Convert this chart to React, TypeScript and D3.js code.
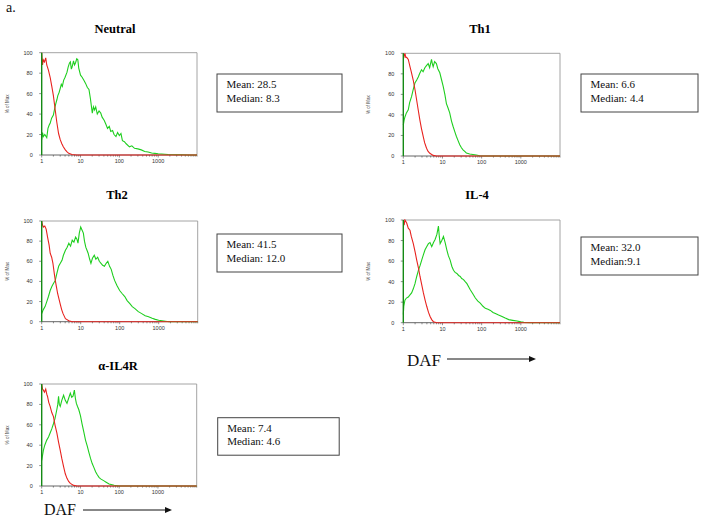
import React from "react";
import * as d3 from "d3";

const W = 705;
const H = 520;

// ---------- data ----------
const panelTitles = ["Neutral", "Th1", "Th2", "IL-4", "α-IL4R"];
const meanValues = ["28.5", "6.6", "41.5", "32.0", "7.4"];
const medianLabels = ["Median: 8.3", "Median: 4.4", "Median: 12.0", "Median:9.1", "Median: 4.6"];
const xTickValues = [1, 10, 100, 1000];
const xTickLabels = ["1", "10", "100", "1000"];
const yTickValues = [0, 20, 40, 60, 80, 100];

const neutralRed: [number, number][] = [
  [1, 100], [1.05, 88], [1.1, 93], [1.18, 91], [1.27, 95], [1.35, 88], [1.49, 83], [1.65, 76], [1.82, 67],
  [2.0, 58], [2.23, 44], [2.45, 32], [2.72, 21], [3.0, 15], [3.3, 11], [3.6, 8], [4.06, 5], [4.5, 3],
  [4.96, 1.6], [6.0, 0.5], [8, 0], [10000, 0],
];
const neutralGreen: [number, number][] = [
  [1, 15], [1.05, 22], [1.1, 18], [1.2, 20], [1.35, 17], [1.45, 26], [1.55, 29], [1.65, 31], [1.8, 36],
  [2.0, 39], [2.15, 45], [2.3, 50], [2.46, 54], [2.6, 58], [2.8, 61], [3.0, 65], [3.2, 69], [3.4, 67],
  [3.67, 73], [4.0, 76], [4.49, 81], [4.8, 86], [5.2, 90], [5.48, 91], [5.8, 84], [6.06, 86], [6.6, 92],
  [7.0, 88], [7.41, 90], [8.0, 94], [8.52, 93], [9.0, 85], [10, 78], [11, 76], [12.2, 73], [13.5, 70],
  [15, 66], [16.5, 64], [18, 55], [20.1, 41], [21.5, 47], [23, 44], [24.6, 47], [27, 40], [30, 43],
  [33.2, 41], [36, 37], [40.6, 34], [45, 30], [49.6, 26], [55, 28], [60, 23], [67, 24], [73, 20],
  [81.8, 18], [90, 22], [100, 19], [110, 21], [120, 14], [135, 13], [150, 11], [182, 8], [210, 9],
  [246, 6.5], [300, 6], [367, 5], [450, 3.5], [550, 3], [680, 2], [818, 1.6], [1000, 1.2], [1222, 1],
  [1800, 0.5], [2722, 0.3], [4000, 0.2], [6050, 0], [10000, 0],
];

const th1Red: [number, number][] = [
  [1, 100], [1.05, 97], [1.1, 100], [1.16, 96], [1.22, 96], [1.34, 94], [1.48, 87], [1.6, 82], [1.79, 74],
  [2.0, 64], [2.18, 55], [2.4, 45], [2.65, 35], [2.9, 27], [3.22, 19], [3.5, 13], [3.92, 7.5], [4.3, 4.5],
  [4.76, 2.6], [5.79, 0.6], [7, 0], [10000, 0],
];
const th1Green: [number, number][] = [
  [1, 30], [1.05, 35], [1.1, 38], [1.2, 42], [1.34, 45], [1.45, 52], [1.63, 58], [1.8, 65], [1.98, 71],
  [2.2, 74], [2.41, 77], [2.6, 80], [2.92, 84], [3.2, 82], [3.55, 86], [3.9, 88], [4.32, 90], [4.7, 86],
  [5.25, 94], [5.5, 90], [5.79, 87], [6.3, 92], [7.0, 90], [7.6, 85], [8.55, 81], [9.5, 74], [10.4, 68],
  [11.5, 60], [12.6, 51], [13.8, 47], [15.3, 42], [17, 34], [18.6, 29], [20.5, 24], [22.7, 19], [25, 15],
  [27.6, 11], [30.5, 8], [33.5, 6], [37, 4.5], [40.7, 3], [45, 2.5], [49.5, 2], [60, 1.5], [73, 1],
  [89, 0.3], [119, 0], [10000, 0],
];

const th2Red: [number, number][] = [
  [1, 100], [1.05, 96], [1.1, 94], [1.2, 95], [1.3, 92], [1.43, 83], [1.55, 76], [1.65, 68], [1.8, 64],
  [1.94, 58], [2.1, 48], [2.23, 41], [2.4, 34], [2.56, 28], [2.8, 22], [3.01, 17], [3.25, 12], [3.53, 8],
  [4.06, 3], [4.96, 1], [6.06, 0], [10000, 0],
];
const th2Green: [number, number][] = [
  [1, 8], [1.1, 12], [1.22, 15], [1.35, 20], [1.49, 25], [1.65, 31], [1.82, 35], [2.0, 38], [2.23, 41],
  [2.45, 48], [2.72, 55], [3.0, 58], [3.32, 61], [3.6, 66], [4.06, 71], [4.5, 74], [4.96, 78], [5.5, 75],
  [6.06, 81], [6.7, 79], [7.41, 84], [8.0, 82], [8.52, 78], [9.2, 88], [10, 94], [10.8, 91], [11.7, 88],
  [12.5, 80], [13.5, 74], [14.5, 71], [15.5, 68], [17, 62], [18.3, 58], [20, 63], [22.3, 66], [24.5, 62],
  [27.2, 64], [30, 60], [33.2, 58], [36.5, 56], [40.6, 55], [45, 58], [49.6, 60], [55, 55], [60.6, 52],
  [67, 46], [74, 41], [85, 36], [99.7, 31], [115, 28], [135, 25], [155, 21], [182, 18], [210, 15],
  [246, 13], [300, 10], [367, 8], [450, 6], [550, 5], [680, 3.5], [818, 2.3], [1000, 1.5], [1222, 1],
  [1822, 0], [10000, 0],
];

const il4Red: [number, number][] = [
  [1, 100], [1.05, 95], [1.1, 100], [1.22, 97], [1.34, 92], [1.48, 90], [1.6, 84], [1.8, 77], [2.0, 69],
  [2.2, 61], [2.45, 53], [2.67, 45], [2.95, 37], [3.26, 29], [3.6, 22], [3.96, 16], [4.4, 10], [4.83, 6],
  [5.3, 3], [5.88, 1], [7.16, 0], [10000, 0],
];
const il4Green: [number, number][] = [
  [1, 8], [1.03, 16], [1.1, 22], [1.2, 24], [1.34, 25], [1.48, 27], [1.63, 29], [1.8, 33], [1.99, 38],
  [2.2, 45], [2.43, 51], [2.7, 56], [2.95, 61], [3.25, 66], [3.59, 71], [3.95, 74], [4.37, 77], [4.8, 78],
  [5.32, 74], [5.9, 78], [6.48, 81], [7.2, 86], [7.89, 94], [8.3, 84], [8.71, 77], [9.6, 80], [10.6, 84],
  [11.7, 78], [12.9, 71], [14.2, 65], [15.7, 61], [17.3, 55], [19.1, 51], [21, 49], [23.3, 48], [25.8, 46],
  [28.4, 45], [31, 43], [34.5, 42], [38, 40], [42.1, 38], [46.5, 35], [51.2, 32], [60, 28], [69, 24],
  [80, 21], [92, 19], [108, 16], [124, 14], [145, 13], [167, 12], [195, 10], [224, 9], [270, 7.5],
  [331, 6], [400, 4.5], [491, 3], [620, 2.3], [802, 1.6], [1000, 0.8], [1195, 0.3], [1780, 0], [10000, 0],
];

const il4rRed: [number, number][] = [
  [1, 100], [1.05, 95], [1.105, 94], [1.18, 92], [1.27, 95], [1.35, 90], [1.41, 88], [1.52, 82], [1.65, 78],
  [1.82, 72], [2.01, 68], [2.2, 60], [2.46, 52], [2.72, 43], [3.01, 35], [3.3, 27], [3.67, 19], [4.06, 12],
  [4.49, 7.5], [4.96, 4.5], [5.48, 2.6], [6.7, 0.6], [8.19, 0], [10000, 0],
];
const il4rGreen: [number, number][] = [
  [1, 25], [1.05, 30], [1.105, 35], [1.2, 40], [1.35, 45], [1.5, 48], [1.65, 52], [1.82, 56], [2.01, 61],
  [2.2, 66], [2.46, 75], [2.6, 80], [2.72, 88], [2.85, 80], [3.01, 78], [3.3, 84], [3.67, 89], [4.06, 84],
  [4.49, 81], [4.96, 86], [5.48, 91], [5.95, 87], [6.43, 88], [6.97, 94], [7.4, 86], [7.85, 81], [8.4, 78],
  [9.04, 75], [10, 69], [11, 61], [12.2, 53], [13.5, 45], [15, 39], [16.5, 33], [18.2, 27], [20.1, 22],
  [22.3, 18], [24.6, 14], [27.2, 11], [30.1, 8.5], [33.2, 7], [36.7, 6], [40.6, 5], [44.9, 4], [54.9, 2],
  [74, 0.7], [99.7, 0], [10000, 0],
];

const redSeries = [neutralRed, th1Red, th2Red, il4Red, il4rRed];
const greenSeries = [neutralGreen, th1Green, th2Green, il4Green, il4rGreen];

// ---------- layout ----------
const layout = [
  { l: 41.7, t: 52.7, r: 197, b: 155, titleX: 115, titleY: 32.5, box: { x: 217, y: 74, w: 125, h: 38 } },
  { l: 403.3, t: 53.3, r: 560, b: 156, titleX: 480, titleY: 32.5, box: { x: 581, y: 74, w: 117, h: 38 } },
  { l: 41.7, t: 221, r: 197.7, b: 321.7, titleX: 117, titleY: 199, box: { x: 217, y: 234, w: 125, h: 38 } },
  { l: 403.3, t: 220, r: 560, b: 322.7, titleX: 477, titleY: 199, box: { x: 581, y: 237, w: 117, h: 38 } },
  { l: 41.7, t: 384, r: 196.7, b: 486, titleX: 118, titleY: 370, box: { x: 217.7, y: 417.7, w: 121.5, h: 37.5 } },
];

const RED = "#e8231f";
const GREEN = "#1fce1f";
const SERIF = "'Liberation Serif', 'Times New Roman', serif";
const SANS = "'Liberation Sans', Arial, sans-serif";

function Panel({ i }: { i: number }) {
  const L = layout[i];
  const x = d3.scaleLog().domain([1, 10000]).range([L.l, L.r]);
  const y = d3.scaleLinear().domain([0, 100]).range([L.b, L.t]);
  const line = d3
    .line<[number, number]>()
    .x((d) => x(d[0]))
    .y((d) => y(d[1]));
  const minor = x.ticks();
  const clipId = `clip${i}`;
  return (
    <g>
      <text x={L.titleX} y={L.titleY} textAnchor="middle" fontFamily={SERIF} fontWeight="bold" fontSize={12.5}>
        {panelTitles[i]}
      </text>
      <defs>
        <clipPath id={clipId}>
          <rect x={L.l - 1} y={L.t - 1} width={L.r - L.l + 2} height={L.b - L.t + 2} />
        </clipPath>
      </defs>
      {/* frame */}
      <line x1={L.l} x2={L.r} y1={L.t} y2={L.t} stroke="#9a9a9a" strokeWidth={0.9} />
      <line x1={L.r} x2={L.r} y1={L.t} y2={L.b} stroke="#9a9a9a" strokeWidth={0.9} />
      <line x1={L.l} x2={L.r} y1={L.b} y2={L.b} stroke="#555" strokeWidth={0.9} />
      {/* x ticks */}
      {minor.map((v, k) => {
        const major = xTickValues.includes(v);
        return (
          <line key={k} x1={x(v)} x2={x(v)} y1={L.b} y2={L.b + (major ? 2.5 : 1.6)} stroke="#444" strokeWidth={0.6} />
        );
      })}
      {xTickValues.map((v, k) => (
        <text key={k} x={x(v)} y={L.b + 8} textAnchor="middle" fontFamily={SANS} fontSize={5.5} fill="#333">
          {xTickLabels[k]}
        </text>
      ))}
      {/* y ticks */}
      {yTickValues.map((v) => (
        <g key={v}>
          <line x1={L.l - 2.5} x2={L.l} y1={y(v)} y2={y(v)} stroke="#444" strokeWidth={0.6} />
          <text x={L.l - 9} y={y(v) + 2} textAnchor="end" fontFamily={SANS} fontSize={5.5} fill="#333">
            {v}
          </text>
        </g>
      ))}
      <text
        transform={`translate(${L.l - 33},${(L.t + L.b) / 2}) rotate(-90)`}
        textAnchor="middle"
        fontFamily={SANS}
        fontSize={4.5}
        fill="#444"
      >
        % of Max
      </text>
      <g clipPath={`url(#${clipId})`}>
        <path d={line(greenSeries[i]) || ""} fill="none" stroke={GREEN} strokeWidth={1.1} />
        <path d={line(redSeries[i]) || ""} fill="none" stroke={RED} strokeWidth={1.1} />
      </g>
      <line x1={L.l} x2={L.l} y1={L.b} y2={L.t} stroke="#158a15" strokeWidth={1.4} />
      {/* stats box */}
      <rect x={L.box.x} y={L.box.y} width={L.box.w} height={L.box.h} fill="white" stroke="#444" strokeWidth={1} />
      <text x={L.box.x + 9.5} y={L.box.y + 14} fontFamily={SERIF} fontSize={11} fill="#111">
        {`Mean: ${meanValues[i]}`}
      </text>
      <text x={L.box.x + 9.5} y={L.box.y + 27.5} fontFamily={SERIF} fontSize={11} fill="#111">
        {medianLabels[i]}
      </text>
    </g>
  );
}

function DafArrow({ tx, ty, x1, x2, ay, fs }: { tx: number; ty: number; x1: number; x2: number; ay: number; fs: number }) {
  return (
    <g>
      <text x={tx} y={ty} fontFamily={SERIF} fontSize={fs} fill="#111">
        DAF
      </text>
      <line x1={x1} x2={x2 - 6} y1={ay} y2={ay} stroke="#111" strokeWidth={1} />
      <path d={`M${x2},${ay} L${x2 - 7},${ay - 3} L${x2 - 7},${ay + 3} Z`} fill="#111" />
    </g>
  );
}

export default function App() {
  return (
    <svg
      width={W}
      height={H}
      viewBox={`0 0 ${W} ${H}`}
      style={{ position: "absolute", left: 0, top: 0, background: "white" }}
    >
      <rect x={0} y={0} width={W} height={H} fill="white" />
      <text x={6} y={12} fontFamily={SERIF} fontSize={14} fill="#111">
        a.
      </text>
      {layout.map((_, i) => (
        <Panel key={i} i={i} />
      ))}
      <DafArrow tx={44} ty={515} x1={83} x2={172} ay={510} fs={16} />
      <DafArrow tx={407} ty={366} x1={447} x2={536} ay={359} fs={17} />
    </svg>
  );
}
